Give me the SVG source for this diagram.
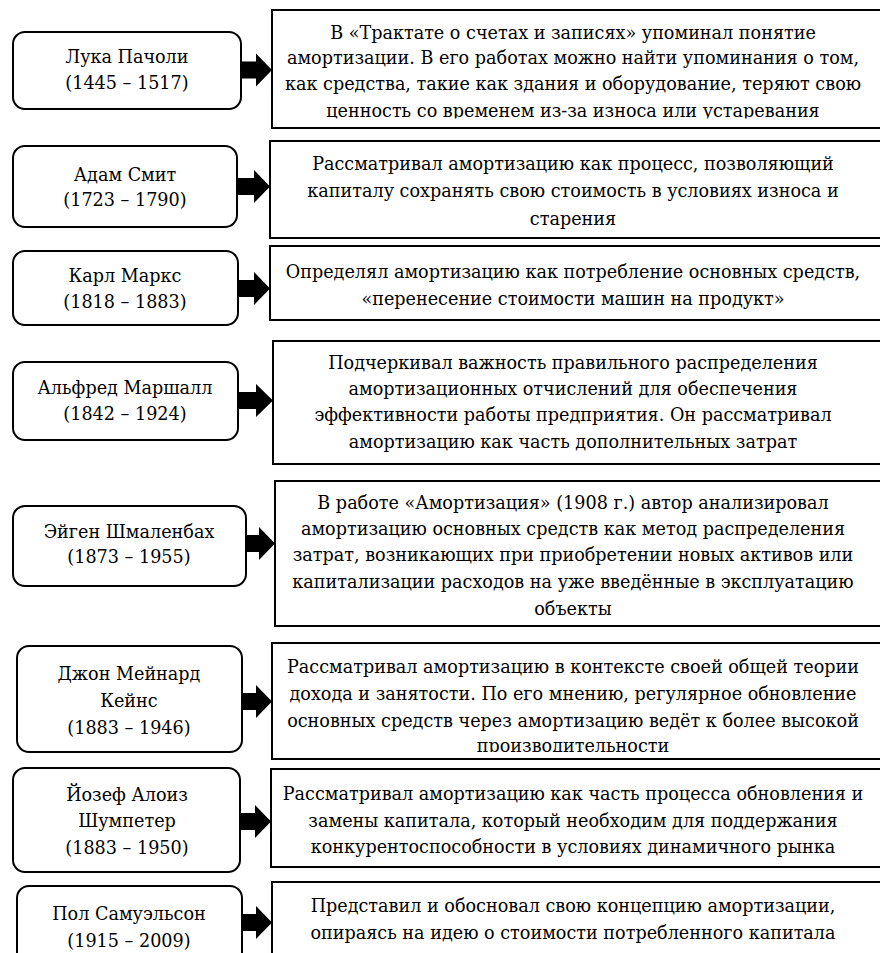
<svg xmlns="http://www.w3.org/2000/svg" width="880" height="953" viewBox="0 0 880 953">
<style>
.nb{fill:#fff;stroke:#000;stroke-width:2}
.db{fill:#fff;stroke:#000;stroke-width:2}
.ar{fill:#000;stroke:none}
</style>
<defs>
<clipPath id="c1"><rect x="272" y="0" width="620" height="118.5"/></clipPath>
<clipPath id="c6"><rect x="272" y="600" width="620" height="152"/></clipPath>
</defs>
<rect width="880" height="953" fill="#fff"/>
<g id="connectors">
<path class="ar" d="M241,61.5h15v-8l16,16.5l-16,16.5v-8h-15z"/>
<path class="ar" d="M237,178h17v-8l16,16.5l-16,16.5v-8h-17z"/>
<path class="ar" d="M238,280h16v-8l16,16.5l-16,16.5v-8h-16z"/>
<path class="ar" d="M238,392h18v-8l17,16.5l-17,16.5v-8h-18z"/>
<path class="ar" d="M246,535h13v-8l16,16.5l-16,16.5v-8h-13z"/>
<path class="ar" d="M242,693h14v-8l16,16.5l-16,16.5v-8h-14z"/>
<path class="ar" d="M240,813h15v-8l16,16.5l-16,16.5v-8h-15z"/>
<path class="ar" d="M242,914h14v-8l16,16.5l-16,16.5v-8h-14z"/>
</g>
<g font-family="DejaVu Serif, Liberation Serif, serif" font-size="17.6" fill="#000" text-anchor="middle">
<g id="n1"><rect class="nb" x="13" y="32" width="228" height="77" rx="12"/>
<text x="127" y="63">Лука Пачоли</text><text x="127" y="89">(1445 – 1517)</text></g>
<g id="d1"><rect class="db" x="272" y="10" width="620" height="118"/>
<text x="573" y="39">В «Трактате о счетах и записях» упоминал понятие</text>
<text x="573" y="64">амортизации. В его работах можно найти упоминания о том,</text>
<text x="573" y="90">как средства, такие как здания и оборудование, теряют свою</text>
<text x="573" y="116.5" clip-path="url(#c1)">ценность со временем из-за износа или устаревания</text></g>
<g id="n2"><rect class="nb" x="13" y="146" width="224" height="81" rx="12"/>
<text x="125" y="181">Адам Смит</text><text x="125" y="206">(1723 – 1790)</text></g>
<g id="d2"><rect class="db" x="270" y="141" width="620" height="97"/>
<text x="573" y="170">Рассматривал амортизацию как процесс, позволяющий</text>
<text x="573" y="197">капиталу сохранять свою стоимость в условиях износа и</text>
<text x="573" y="225">старения</text></g>
<g id="n3"><rect class="nb" x="13" y="251" width="225" height="74" rx="12"/>
<text x="125" y="282">Карл Маркс</text><text x="125" y="308">(1818 – 1883)</text></g>
<g id="d3"><rect class="db" x="270" y="246" width="620" height="74"/>
<text x="573" y="278">Определял амортизацию как потребление основных средств,</text>
<text x="573" y="305">«перенесение стоимости машин на продукт»</text></g>
<g id="n4"><rect class="nb" x="13" y="362" width="225" height="78" rx="12"/>
<text x="125" y="394">Альфред Маршалл</text><text x="125" y="420">(1842 – 1924)</text></g>
<g id="d4"><rect class="db" x="273" y="341" width="620" height="123"/>
<text x="573" y="369">Подчеркивал важность правильного распределения</text>
<text x="573" y="395">амортизационных отчислений для обеспечения</text>
<text x="573" y="421">эффективности работы предприятия. Он рассматривал</text>
<text x="573" y="448">амортизацию как часть дополнительных затрат</text></g>
<g id="n5"><rect class="nb" x="13" y="506" width="233" height="80" rx="12"/>
<text x="129" y="538">Эйген Шмаленбах</text><text x="129" y="563">(1873 – 1955)</text></g>
<g id="d5"><rect class="db" x="275" y="481" width="620" height="145"/>
<text x="573" y="509">В работе «Амортизация» (1908 г.) автор анализировал</text>
<text x="573" y="535">амортизацию основных средств как метод распределения</text>
<text x="573" y="561">затрат, возникающих при приобретении новых активов или</text>
<text x="573" y="588">капитализации расходов на уже введённые в эксплуатацию</text>
<text x="573" y="615">объекты</text></g>
<g id="n6"><rect class="nb" x="17" y="646" width="225" height="106" rx="12"/>
<text x="129" y="680">Джон Мейнард</text><text x="129" y="707">Кейнс</text><text x="129" y="734">(1883 – 1946)</text></g>
<g id="d6"><rect class="db" x="272" y="643" width="620" height="116"/>
<text x="573" y="673">Рассматривал амортизацию в контексте своей общей теории</text>
<text x="573" y="700">дохода и занятости. По его мнению, регулярное обновление</text>
<text x="573" y="727">основных средств через амортизацию ведёт к более высокой</text>
<text x="573" y="752" clip-path="url(#c6)">производительности</text></g>
<g id="n7"><rect class="nb" x="13" y="768" width="227" height="104" rx="12"/>
<text x="127" y="801">Йозеф Алоиз</text><text x="127" y="827">Шумпетер</text><text x="127" y="854">(1883 – 1950)</text></g>
<g id="d7"><rect class="db" x="271" y="769" width="620" height="98"/>
<text x="573" y="800">Рассматривал амортизацию как часть процесса обновления и</text>
<text x="573" y="827">замены капитала, который необходим для поддержания</text>
<text x="573" y="853">конкурентоспособности в условиях динамичного рынка</text></g>
<g id="n8"><rect class="nb" x="17" y="886" width="225" height="80" rx="12"/>
<text x="129" y="920">Пол Самуэльсон</text><text x="129" y="947">(1915 – 2009)</text></g>
<g id="d8"><rect class="db" x="272" y="882" width="620" height="90"/>
<text x="573" y="912">Представил и обосновал свою концепцию амортизации,</text>
<text x="573" y="939">опираясь на идею о стоимости потребленного капитала</text></g>
</g>
</svg>
